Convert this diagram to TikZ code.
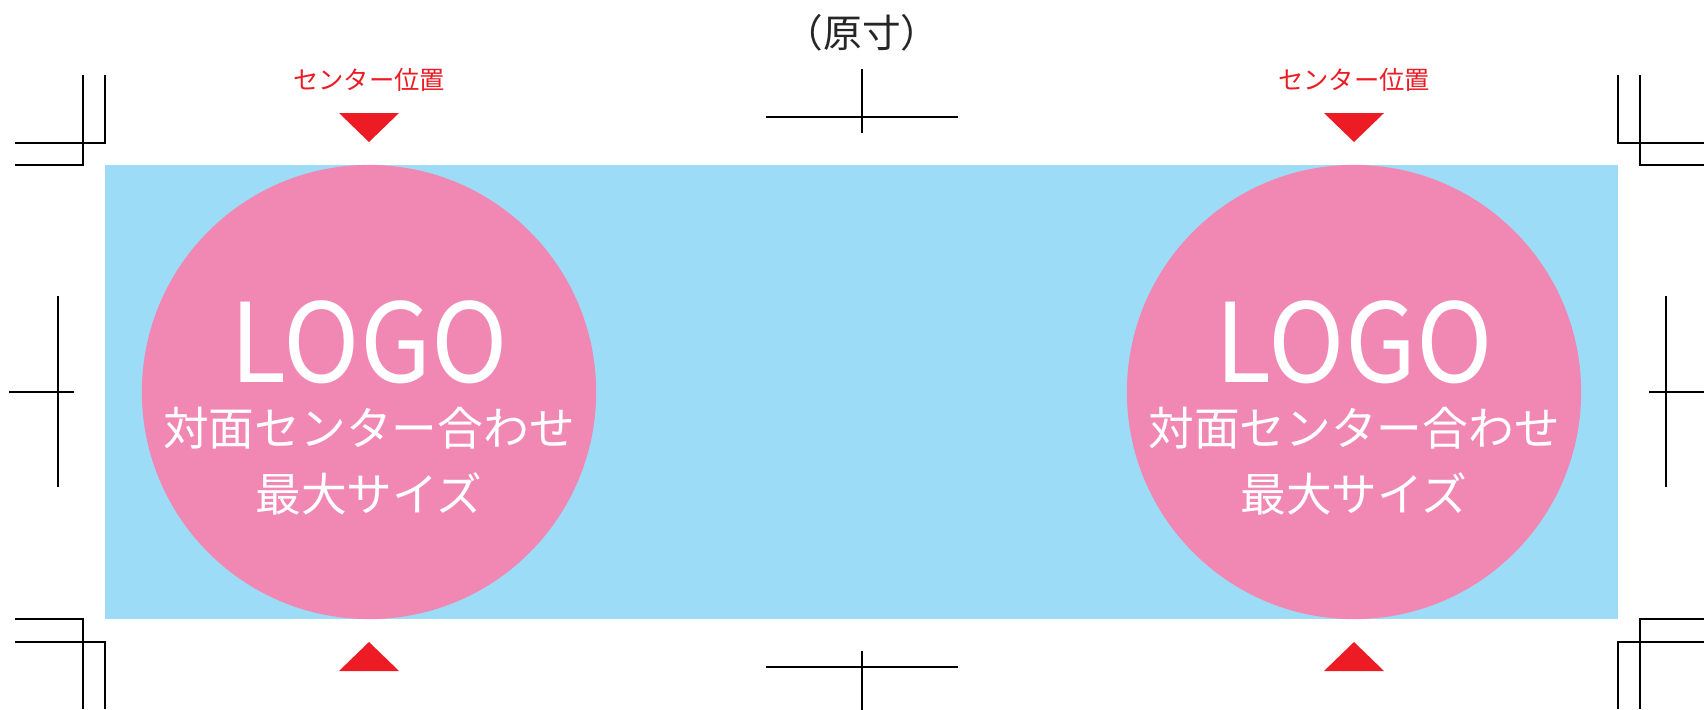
\documentclass[tikz,border=0pt]{standalone}
\usepackage{fontspec}
\newfontfamily\jpfont{Noto Sans CJK JP}
\definecolor{trimblue}{RGB}{157, 220, 246}
\definecolor{logopink}{RGB}{241, 136, 180}
\definecolor{markred}{RGB}{237, 28, 36}
\usepackage{tikz}
\usetikzlibrary{positioning}

\tikzset{
  cropline/.style={line width=0.35pt, black},
  logocircle/.style={circle, fill=logopink, minimum size=4.54cm, inner sep=0pt},
  marklabel/.style={font=\jpfont\fontsize{7.2pt}{8pt}\selectfont, text=markred, inner sep=0pt},
  logotext/.style={font=\jpfont\fontsize{31.2pt}{32pt}\selectfont, text=white, inner sep=0pt},
  sizetext/.style={font=\jpfont\fontsize{13pt}{15pt}\selectfont, text=white, inner sep=0pt},
}

\begin{document}
\begin{tikzpicture}[x=0.01cm, y=-0.01cm]
  \useasboundingbox (0,0) rectangle (1704,709);
  \clip (0,0) rectangle (1704,709);

  % Title
  \node[font=\jpfont\fontsize{11pt}{12pt}\selectfont, text=black!85, inner sep=0pt] (title) at (862,33) {（原寸）};

  % Trim area
  \fill[trimblue] (105,165) rectangle (1618,619);

  % Crop marks: corners
  \draw[cropline] (105,75) -- (105,143) -- (15,143);
  \draw[cropline] (83,75) -- (83,165) -- (15,165);
  \draw[cropline] (15,619) -- (83,619) -- (83,709);
  \draw[cropline] (15,642) -- (105,642) -- (105,709);
  \draw[cropline] (1618,75) -- (1618,143) -- (1704,143);
  \draw[cropline] (1640,75) -- (1640,165) -- (1704,165);
  \draw[cropline] (1704,619) -- (1640,619) -- (1640,709);
  \draw[cropline] (1704,642) -- (1618,642) -- (1618,709);

  % Crop marks: centres
  \draw[cropline] (766,117) -- (958,117) (862,69) -- (862,133);
  \draw[cropline] (766,667) -- (958,667) (862,651) -- (862,715);
  \draw[cropline] (58,296) -- (58,487) (9,392) -- (74,392);
  \draw[cropline] (1666,296) -- (1666,487) (1649,392) -- (1714,392);

  % Left logo
  \node[marklabel] (markL) at (369,80) {センター位置};
  \fill[markred] (339,113) -- (399,113) -- (369,142) -- cycle;
  \fill[markred] (339,671) -- (399,671) -- (369,642) -- cycle;
  \node[logocircle] (circL) at (369,392) {};
  \node[logotext] (logoL) at (369,342) {\scalebox{0.94}[1]{LOGO}};
  \node[sizetext] (lineaL) at (369,428) {対面センター合わせ};
  \node[sizetext] (linebL) at (369,494) {最大サイズ};

  % Right logo
  \node[marklabel] (markR) at (1354,80) {センター位置};
  \fill[markred] (1324,113) -- (1384,113) -- (1354,142) -- cycle;
  \fill[markred] (1324,671) -- (1384,671) -- (1354,642) -- cycle;
  \node[logocircle] (circR) at (1354,392) {};
  \node[logotext] (logoR) at (1354,342) {\scalebox{0.94}[1]{LOGO}};
  \node[sizetext] (lineaR) at (1354,428) {対面センター合わせ};
  \node[sizetext] (linebR) at (1354,494) {最大サイズ};
\end{tikzpicture}
\end{document}
